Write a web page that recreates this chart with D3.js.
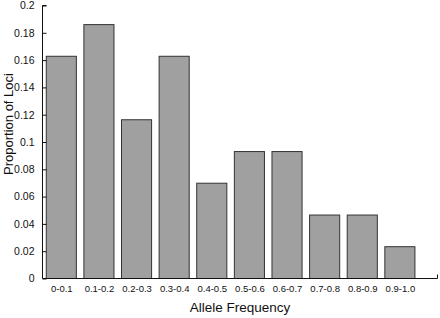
<!DOCTYPE html>
<html>
<head>
<meta charset="utf-8">
<script src="https://cdn.jsdelivr.net/npm/d3@7"></script>
<style>
  body { margin: 0; background: #fff; }
  text { font-family: "Liberation Sans", Arial, sans-serif; fill: #111; }
</style>
</head>
<body>
<div id="chart"></div>
<script>
const categories = ['0-0.1', '0.1-0.2', '0.2-0.3', '0.3-0.4', '0.4-0.5', '0.5-0.6', '0.6-0.7', '0.7-0.8', '0.8-0.9', '0.9-1.0'];
const proportions = [0.1628, 0.186, 0.1163, 0.1628, 0.0698, 0.093, 0.093, 0.0465, 0.0465, 0.0233];
const yTicks = [0, 0.02, 0.04, 0.06, 0.08, 0.1, 0.12, 0.14, 0.16, 0.18, 0.2];

const W = 440, H = 318;
const svg = d3.select("#chart").append("svg")
  .attr("width", W)
  .attr("height", H);

// bar slots 1..10, axis runs from 0.5 to 11 like the original
const x = d3.scaleLinear().domain([0.5, 11]).range([42.5, 437.5]);
const y = d3.scaleLinear().domain([0, 0.2]).range([278.5, 5.5]);
const barW = (x(1.8) - x(1));

// bars
svg.selectAll(".bar")
  .data(proportions)
  .enter()
  .append("rect")
  .attr("class", "bar")
  .attr("x", (d, i) => x(i + 1) - barW / 2)
  .attr("width", barW)
  .attr("y", d => y(d))
  .attr("height", d => y(0) - y(d))
  .attr("fill", "#a0a0a0")
  .attr("stroke", "#333")
  .attr("stroke-width", 1);

// y axis, ticks pointing inward
const yAxis = svg.append("g")
  .attr("transform", `translate(${x(0.5)},0)`)
  .call(d3.axisRight(y).tickValues(yTicks).tickSize(4).tickFormat(d => String(+d.toFixed(2))));
yAxis.select(".domain").attr("d", `M4,${y(0.2)}H0V${y(0)}`).attr("stroke", "#111");
yAxis.selectAll(".tick line").attr("stroke", "#111");
yAxis.selectAll(".tick text")
  .attr("x", -8)
  .attr("text-anchor", "end")
  .style("font-size", "10.5px");

// x axis
const xAxis = svg.append("g")
  .attr("transform", `translate(0,${y(0)})`)
  .call(d3.axisBottom(x).tickValues(d3.range(1, 11)).tickSize(0).tickFormat((d, i) => categories[i]));
xAxis.select(".domain").attr("d", `M${x(0.5)},0H${x(11)}V-4`).attr("stroke", "#111");
xAxis.selectAll(".tick text")
  .attr("dy", "0")
  .attr("y", 13.5)
  .style("font-size", "9.5px");

// axis titles
svg.append("text")
  .attr("x", (x(0.5) + x(11)) / 2)
  .attr("y", 312)
  .attr("text-anchor", "middle")
  .style("font-size", "13.5px")
  .text("Allele Frequency");

svg.append("text")
  .attr("transform", `translate(13,124) rotate(-90)`)
  .attr("text-anchor", "middle")
  .style("font-size", "13px")
  .text("Proportion of Loci");
</script>
</body>
</html>
